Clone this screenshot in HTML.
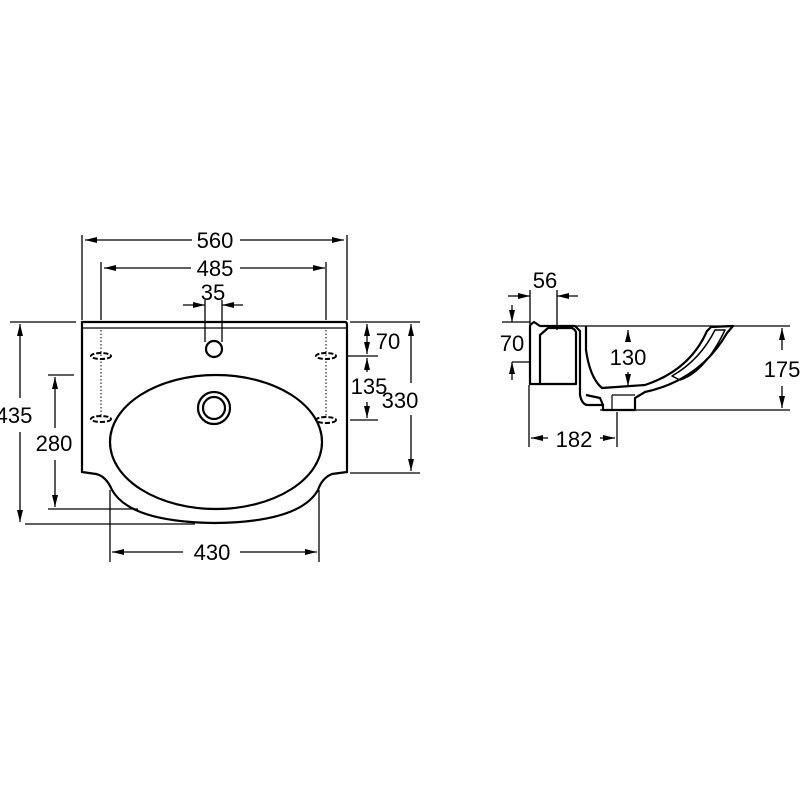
<!DOCTYPE html>
<html><head><meta charset="utf-8"><style>html,body{margin:0;padding:0;background:#fff}svg{display:block}</style></head>
<body>
<svg width="800" height="800" viewBox="0 0 800 800" xmlns="http://www.w3.org/2000/svg">
<defs>
<marker id="a" viewBox="0 0 12 6" refX="12" refY="3" markerWidth="12" markerHeight="6" markerUnits="userSpaceOnUse" orient="auto-start-reverse"><path d="M0,0L12,3L0,6z" fill="#000"/></marker>
</defs>
<g fill="none" stroke="#000" stroke-width="1.3">
<line x1="82" y1="235" x2="82" y2="320"/><line x1="347" y1="235" x2="347" y2="320"/>
<line x1="101" y1="262" x2="101" y2="320"/><line x1="326" y1="262" x2="326" y2="320"/>
<line x1="205" y1="300" x2="205" y2="342"/><line x1="222" y1="300" x2="222" y2="342"/>
<line x1="10" y1="322" x2="76" y2="322"/><line x1="25" y1="524" x2="195" y2="524"/>
<line x1="48" y1="375" x2="74" y2="375"/><line x1="48" y1="509" x2="138" y2="509"/>
<line x1="110" y1="490" x2="110" y2="562"/><line x1="319" y1="490" x2="319" y2="562"/>
<line x1="350" y1="322" x2="420" y2="322"/><line x1="348" y1="356" x2="378" y2="356"/>
<line x1="350" y1="420" x2="378" y2="420"/><line x1="350" y1="473" x2="420" y2="473"/>
</g>
<g stroke="#000" stroke-width="1.3" fill="none">
<line x1="85" y1="240" x2="192" y2="240" marker-start="url(#a)"/><line x1="240" y1="240" x2="344" y2="240" marker-end="url(#a)"/>
<line x1="104" y1="268" x2="191" y2="268" marker-start="url(#a)"/><line x1="240" y1="268" x2="325" y2="268" marker-end="url(#a)"/>
<line x1="183" y1="305" x2="205" y2="305" marker-end="url(#a)"/><line x1="243" y1="305" x2="222" y2="305" marker-end="url(#a)"/>
<line x1="20" y1="324" x2="20" y2="398" marker-start="url(#a)"/><line x1="20" y1="432" x2="20" y2="522" marker-end="url(#a)"/>
<line x1="55" y1="377" x2="55" y2="428" marker-start="url(#a)"/><line x1="55" y1="460" x2="55" y2="507" marker-end="url(#a)"/>
<line x1="112" y1="552" x2="183" y2="552" marker-start="url(#a)"/><line x1="240" y1="552" x2="317" y2="552" marker-end="url(#a)"/>
<line x1="367" y1="324" x2="367" y2="354" marker-start="url(#a)" marker-end="url(#a)"/>
<line x1="367" y1="358" x2="367" y2="372" marker-start="url(#a)"/><line x1="367" y1="402" x2="367" y2="418" marker-end="url(#a)"/>
<line x1="411" y1="324" x2="411" y2="383" marker-start="url(#a)"/><line x1="411" y1="415" x2="411" y2="471" marker-end="url(#a)"/>
</g>
<g fill="none" stroke="#000" stroke-width="2.2">
<path d="M82,322 L345,322 Q347,322 347,325 L347,472 L332,474 Q322,478 318,490 Q300,522 215,523 Q130,522 112,490 Q106,476 96,474 L82,472 Z"/>
<line x1="82" y1="328" x2="347" y2="328" stroke-width="1.2"/>
<circle cx="214" cy="349" r="8"/>
<ellipse cx="216" cy="442" rx="106" ry="67"/>
<circle cx="214" cy="408" r="16"/>
<circle cx="214" cy="408" r="11"/>
</g>
<g stroke="#000" stroke-width="1" stroke-dasharray="1.5,2" fill="none">
<line x1="101" y1="330" x2="101" y2="418"/><line x1="326" y1="330" x2="326" y2="418"/>
</g>
<g stroke="#000" stroke-width="2" stroke-dasharray="5,2" fill="none">
<ellipse cx="101" cy="356" rx="10" ry="3"/><ellipse cx="101" cy="419" rx="10" ry="3"/>
<ellipse cx="326" cy="356" rx="10" ry="3"/><ellipse cx="326" cy="420" rx="10" ry="3"/>
</g>
<g fill="none" stroke="#000" stroke-width="1.3">
<line x1="557" y1="326" x2="790" y2="326"/>
<line x1="530" y1="290" x2="530" y2="325"/><line x1="557" y1="290" x2="557" y2="330"/>
<line x1="502" y1="322" x2="530" y2="322"/><line x1="512" y1="362" x2="530" y2="362"/>
<line x1="600" y1="410" x2="790" y2="410"/>
<line x1="529" y1="385" x2="529" y2="447"/><line x1="617" y1="412" x2="617" y2="447"/>
</g>
<g stroke="#000" stroke-width="1.3">
<line x1="508" y1="296" x2="530" y2="296" marker-end="url(#a)"/><line x1="578" y1="296" x2="557" y2="296" marker-end="url(#a)"/>
<line x1="512" y1="305" x2="512" y2="322" marker-end="url(#a)"/><line x1="512" y1="380" x2="512" y2="362" marker-end="url(#a)"/>
<line x1="628" y1="330" x2="628" y2="342" marker-start="url(#a)"/><line x1="628" y1="372" x2="628" y2="386" marker-end="url(#a)"/>
<line x1="782" y1="328" x2="782" y2="350" marker-start="url(#a)"/><line x1="782" y1="386" x2="782" y2="408" marker-end="url(#a)"/>
<line x1="531" y1="438" x2="548" y2="438" marker-start="url(#a)"/><line x1="600" y1="438" x2="615" y2="438" marker-end="url(#a)"/>
</g>
<g fill="none" stroke="#000" stroke-width="2.2" stroke-linejoin="round">
<path d="M530,325 L534,322 L540,326 L575,326 L580,331 L580,395 Q582,405 588,405 L603,405 L603,410 L635,410 L635,398 L645,392 Q700,380 727,333 L733,326 L711,327 L707,331 Q690,370 645,385 L602,388 Q590,378 586,350 L586,326"/>
<path d="M530,325 L530,384 L576,384 L576,332 Q574,328 571,328 L548,328 L540,335 L540,384"/>
<path d="M586,395 L600,398 L603,405"/>
<path d="M715,330 L725,330 Q705,372 680,380 L672,376 Q700,360 715,330Z" stroke-width="1.5"/>
<line x1="612" y1="395" x2="612" y2="410" stroke-width="1.2"/>
<line x1="612" y1="395" x2="635" y2="395" stroke-width="1.2"/>
</g>
<g font-family="Liberation Sans, sans-serif" font-size="22" fill="#000" text-anchor="middle">
<text x="215" y="248">560</text>
<text x="215" y="276">485</text>
<text x="213" y="300">35</text>
<text x="14" y="423">435</text>
<text x="54" y="451">280</text>
<text x="212" y="560">430</text>
<text x="388" y="349">70</text>
<text x="369" y="394">135</text>
<text x="400" y="408">330</text>
<text x="545" y="288">56</text>
<text x="512" y="351">70</text>
<text x="628" y="365">130</text>
<text x="782" y="377">175</text>
<text x="574" y="447">182</text>
</g>
</svg>
</body></html>
